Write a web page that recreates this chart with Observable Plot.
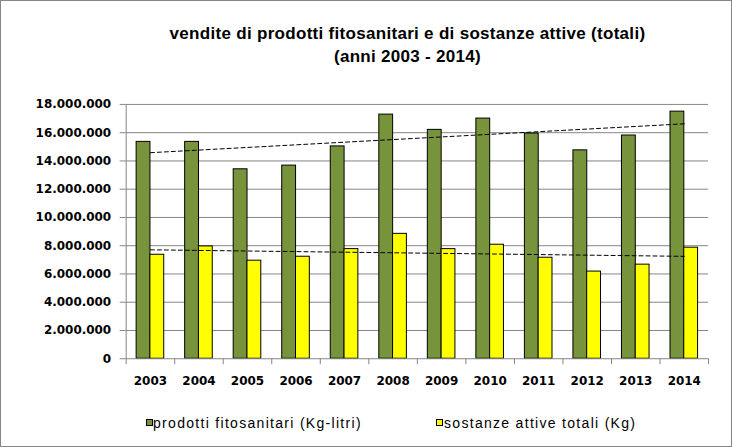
<!DOCTYPE html>
<html>
<head>
<meta charset="utf-8">
<script src="https://cdn.jsdelivr.net/npm/d3@7"></script>
<script src="https://cdn.jsdelivr.net/npm/@observablehq/plot@0.6"></script>
<style>
  html, body { margin: 0; padding: 0; background: #fff; }
  #frame { position: relative; width: 732px; height: 447px; box-sizing: border-box; border: 1px solid #868686; overflow: hidden; background: #fff; }
  #title { position: absolute; left: 0; width: 813px; top: 21px; text-align: center; font-family: "Liberation Sans", sans-serif; font-weight: bold; font-size: 17px; line-height: 23px; letter-spacing: 0.3px; color: #000; }
  #chart { position: absolute; left: -1px; top: 79px; }
  .leg { position: absolute; top: 415px; font-family: "Liberation Sans", sans-serif; font-size: 14px; line-height: 14px; letter-spacing: 1.3px; color: #000; white-space: nowrap; }
  .sw { position: absolute; width: 7px; height: 7px; box-sizing: border-box; border: 1px solid #000; top: 418px; }
</style>
</head>
<body>
<div id="frame">
  <div id="title">vendite di prodotti fitosanitari e di sostanze attive (totali)<br>(anni 2003 - 2014)</div>
  <div id="chart"></div>
  <div class="sw" id="sw0"></div><div class="leg" id="lg0"></div>
  <div class="sw" id="sw1"></div><div class="leg" id="lg1"></div>
</div>
<script>
// ---- data ----
const years = [2003, 2004, 2005, 2006, 2007, 2008, 2009, 2010, 2011, 2012, 2013, 2014];
const prodotti = [15350000, 15350000, 13410000, 13670000, 15030000, 17280000, 16200000, 17000000, 15940000, 14750000, 15800000, 17490000];
const sostanze = [7360000, 7950000, 6940000, 7220000, 7760000, 8840000, 7760000, 8070000, 7150000, 6170000, 6660000, 7860000];
const seriesNames = ["prodotti fitosanitari (Kg-litri)", "sostanze attive totali (Kg)"];
const seriesColors = ["#77933C", "#FFFF00"];
const yTicks = [0, 2000000, 4000000, 6000000, 8000000, 10000000, 12000000, 14000000, 16000000, 18000000];

// ---- tables ----
const rowsP = years.map((y, i) => ({year: y, series: seriesNames[0], value: prodotti[i]}));
const rowsS = years.map((y, i) => ({year: y, series: seriesNames[1], value: sostanze[i]}));
const xDomain = [years[0] - 0.5, years[years.length - 1] + 0.5];
const boundaries = years.map(y => y - 0.5).concat([years[years.length - 1] + 0.5]);

const itFmt = d3.formatLocale({decimal: ",", thousands: ".", grouping: [3], currency: ["", ""]}).format(",d");

const axisFont = {fontFamily: "DejaVu Sans, sans-serif", fontSize: 12, fontWeight: "bold"};
const gridColor = "#868686";

const chart = Plot.plot({
  width: 733,
  height: 320,
  marginTop: 24,
  marginBottom: 41,
  marginLeft: 126,
  marginRight: 23,
  style: {background: "transparent", color: "#000", fontFamily: "DejaVu Sans, sans-serif", fontSize: "12px", fontWeight: "bold"},
  x: {type: "linear", domain: xDomain},
  y: {domain: [0, 18000000]},
  marks: [
    Plot.gridY(yTicks.slice(1), {stroke: gridColor, strokeOpacity: 1, strokeWidth: 1}),
    Plot.rectY(rowsP, {x1: d => d.year - 0.5, x2: d => d.year + 0.5, y: "value", fill: seriesColors[0], stroke: "#000", strokeWidth: 1, insetLeft: 10.5, insetRight: 24.3}),
    Plot.rectY(rowsS, {x1: d => d.year - 0.5, x2: d => d.year + 0.5, y: "value", fill: seriesColors[1], stroke: "#000", strokeWidth: 1, insetLeft: 24.3, insetRight: 10.5}),
    Plot.ruleY([0], {stroke: gridColor, strokeWidth: 1}),
    Plot.ruleX([xDomain[0]], {stroke: gridColor, strokeWidth: 1}),
    Plot.linearRegressionY(rowsP, {x: "year", y: "value", stroke: "#000", strokeWidth: 1, strokeDasharray: "4,3", ci: 0}),
    Plot.linearRegressionY(rowsS, {x: "year", y: "value", stroke: "#000", strokeWidth: 1, strokeDasharray: "4,3", ci: 0}),
    Plot.axisY(yTicks, {tickSize: 6, tickPadding: 9, tickFormat: itFmt, stroke: gridColor, fill: "#000", label: null, ...axisFont}),
    Plot.axisX(boundaries, {tickSize: 6, tickFormat: () => "", stroke: gridColor, label: null}),
    Plot.axisX(years, {tickSize: 0, tickPadding: 18, tickFormat: d => String(d), fill: "#000", label: null, ...axisFont})
  ]
});
document.getElementById("chart").appendChild(chart);

// ---- legend ----
const legPos = [{sw: 145, tx: 152}, {sw: 435, tx: 443}];
seriesNames.forEach((name, i) => {
  const sw = document.getElementById("sw" + i);
  sw.style.left = legPos[i].sw + "px";
  sw.style.background = seriesColors[i];
  const lg = document.getElementById("lg" + i);
  lg.style.left = legPos[i].tx + "px";
  lg.textContent = name;
});
</script>
</body>
</html>
